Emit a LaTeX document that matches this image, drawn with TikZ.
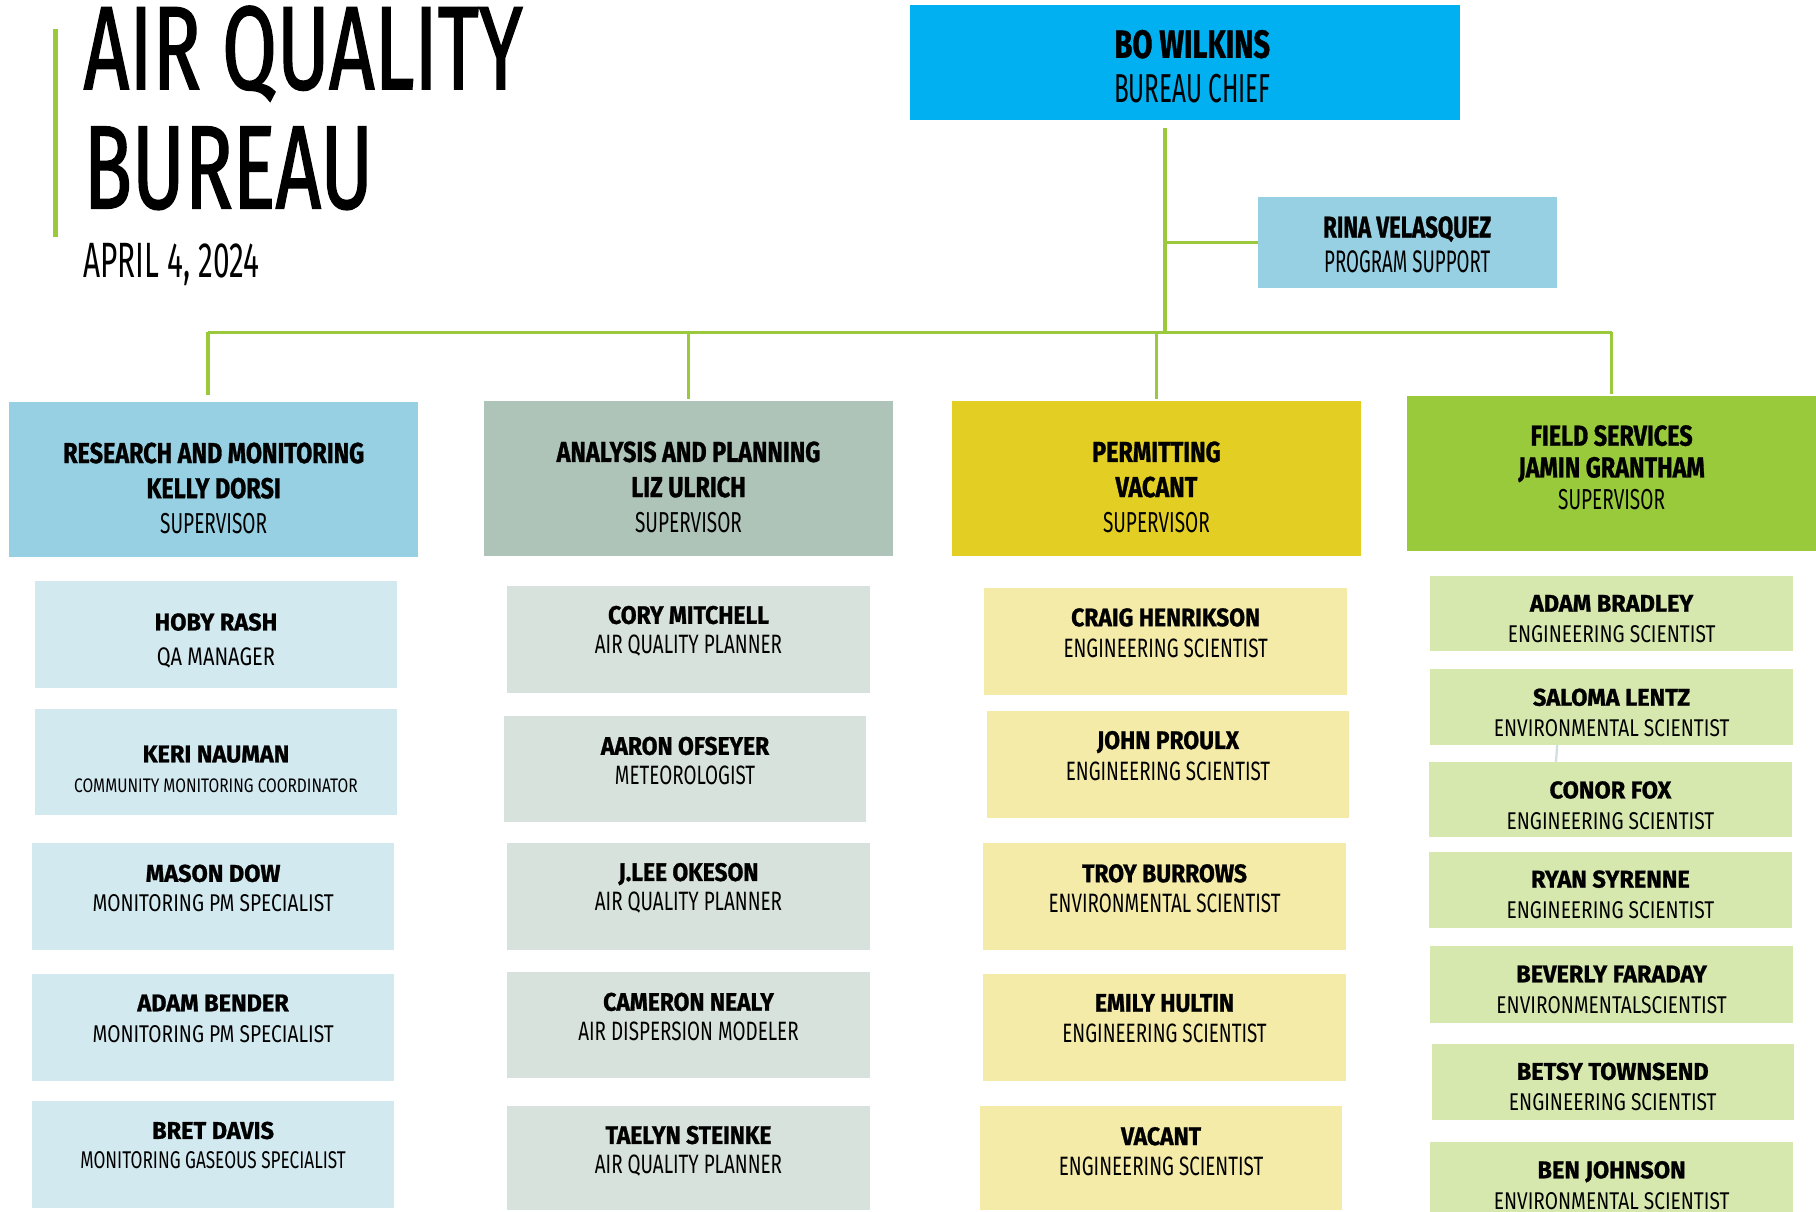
\documentclass[tikz,border=0pt]{standalone}
\usepackage{fontspec}
\setmainfont{Fira Sans}[FakeStretch=0.66]
% display title
\newfontfamily\titlefont{Fira Sans}[FakeStretch=0.67, FakeBold=1.2]
% narrow regular for short captions
\newfontfamily\regnarrow{Fira Sans}[FakeStretch=0.6]
% bold families at several widths
\newfontfamily\boldtight{Fira Sans}[FakeStretch=0.74, FakeBold=1]
\newfontfamily\boldhead{Fira Sans}[FakeStretch=0.81, FakeBold=1]
\newfontfamily\boldname{Fira Sans}[FakeStretch=0.90, FakeBold=1]
\newfontfamily\boldwide{Fira Sans}[FakeStretch=0.97, FakeBold=1]
% regular families for job titles
\newfontfamily\regmid{Fira Sans}[FakeStretch=0.71]
\newfontfamily\regwide{Fira Sans}[FakeStretch=0.79]
\usetikzlibrary{fit}

\definecolor{linegreen}{HTML}{9ACA3C}
\definecolor{chiefblue}{HTML}{00B0F0}
\definecolor{deptblue}{HTML}{97D0E2}
\definecolor{deptsage}{HTML}{AFC4B9}
\definecolor{deptyellow}{HTML}{E3CF23}
\definecolor{deptgreen}{HTML}{99CA3B}
\definecolor{paleblue}{HTML}{D3E9F0}
\definecolor{palesage}{HTML}{D8E2DD}
\definecolor{paleyellow}{HTML}{F4EBA8}
\definecolor{palegreen}{HTML}{D7E8AF}
\definecolor{faintline}{HTML}{D3DEE2}

\tikzset{
  panel/.style={inner sep=0pt, draw=none},
  conn/.style={draw=linegreen, line width=3bp},
  lbl/.style={align=center, inner sep=0pt, text=black},
}

% #1 name, #2 fill, #3-#6 corners, #7 text centre y, #8 text style, #9 text
\newcommand\orgbox[9]{%
  \node[panel, fill=#2, fit={(#3,#4)(#5,#6)}] (#1) {};
  \node[lbl, #8] (#1-text) at ({(#3+#5)/2},#7) {#9};
}
% staff text, middle columns
\newcommand\tightstaff[2]{{\boldname\bfseries\fontsize{22}{27}\selectfont #1}\\
  {\regmid\fontsize{23}{27}\selectfont #2}}
% staff text, outer columns
\newcommand\widestaff[2]{{\boldwide\bfseries\fontsize{21}{27}\selectfont #1}\\
  {\regwide\fontsize{21}{27}\selectfont #2}}
\newcommand\depttext[3]{{\boldhead\bfseries\fontsize{25}{30.5}\selectfont #1}\\
  {\boldhead\bfseries\fontsize{25}{30.5}\selectfont #2}\\
  {\fontsize{25}{30.5}\selectfont #3}}

\begin{document}
\begin{tikzpicture}[x=1bp, y=-1bp]
\useasboundingbox (0,0) rectangle (1568,1046);

% ---- title block ----
\node[panel, fill=linegreen, fit={(46,25)(50,205)}] (titlebar) {};
\node[anchor=base west, inner sep=0pt] (title1) at (72,77)
  {\titlefont\fontsize{103}{103}\selectfont AIR QUALITY};
\node[anchor=base west, inner sep=0pt] (title2) at (72,180)
  {\titlefont\fontsize{103}{103}\selectfont BUREAU};
\node[anchor=base west, inner sep=0pt] (date) at (72,240)
  {\regnarrow\fontsize{43}{43}\selectfont APRIL 4, 2024};

% ---- chief and support ----
\orgbox{chief}{chiefblue}{786}{4}{1261}{104}{57.5}{font=\fontsize{35}{39}\selectfont, xshift=6bp}
  {{\boldtight\bfseries\fontsize{34}{39}\selectfont BO WILKINS}\\ {\regnarrow BUREAU CHIEF}}
\orgbox{rina}{deptblue}{1086}{170}{1344}{249}{211}{font=\fontsize{27}{30}\selectfont}
  {{\boldtight\bfseries\fontsize{26}{30}\selectfont RINA VELASQUEZ}\\ {\regnarrow PROGRAM SUPPORT}}

% ---- sections ----
\orgbox{research}{deptblue}{8}{347}{361}{481}{421.5}{font=\fontsize{25}{30.5}\selectfont}
  {\depttext{RESEARCH AND MONITORING}{KELLY DORSI}{SUPERVISOR}}
\orgbox{analysis}{deptsage}{418}{346}{771}{480}{420.5}{font=\fontsize{25}{30.5}\selectfont}
  {\depttext{ANALYSIS AND PLANNING}{LIZ ULRICH}{SUPERVISOR}}
\orgbox{permitting}{deptyellow}{822}{346}{1175}{480}{420.5}{font=\fontsize{25}{30.5}\selectfont}
  {\depttext{PERMITTING}{VACANT}{SUPERVISOR}}
\orgbox{field}{deptgreen}{1215}{342}{1568}{476}{403.5}{font=\fontsize{25}{27.5}\selectfont}
  {{\boldhead\bfseries\fontsize{25}{27.5}\selectfont FIELD SERVICES}\\
   {\boldhead\bfseries\fontsize{25}{27.5}\selectfont JAMIN GRANTHAM}\\
   {\fontsize{25}{27.5}\selectfont SUPERVISOR}}

% ---- connectors ----
\coordinate (trunk) at (1006,287);
\coordinate (busleft) at ([xshift=-5bp]research.north |- trunk);
\draw[conn] ([yshift=-6bp]chief.south -| trunk) -- (trunk);
\draw[conn] (trunk |- rina.west) -- (rina.west);
\draw[conn] (busleft) -- (field.north |- trunk);
\draw[conn] (busleft) -- ([yshift=6bp]busleft |- research.north);
\draw[conn] (analysis.north |- trunk) -- ([yshift=1bp]analysis.north);
\draw[conn] (permitting.north |- trunk) -- ([yshift=1bp]permitting.north);
\draw[conn] (field.north |- trunk) -- ([yshift=2bp]field.north);

% ---- research and monitoring staff ----
\orgbox{hoby}{paleblue}{30}{502}{343}{594}{553}{font=\fontsize{21}{30}\selectfont}
  {{\boldwide\bfseries\fontsize{21}{30}\selectfont HOBY RASH}\\
   {\regwide\fontsize{22}{30}\selectfont QA MANAGER}}
\orgbox{keri}{paleblue}{30}{612}{343}{704}{664}{font=\fontsize{21}{26}\selectfont}
  {{\boldwide\bfseries\fontsize{21}{26}\selectfont KERI NAUMAN}\\
   {\regwide\fontsize{17}{26}\selectfont COMMUNITY MONITORING COORDINATOR}}
\orgbox{mason}{paleblue}{28}{728}{340}{820}{767}{font=\fontsize{21}{26}\selectfont}
  {\widestaff{MASON DOW}{MONITORING PM SPECIALIST}}
\orgbox{bender}{paleblue}{28}{841}{340}{933}{879.5}{font=\fontsize{21}{27}\selectfont}
  {\widestaff{ADAM BENDER}{MONITORING PM SPECIALIST}}
\orgbox{davis}{paleblue}{28}{951}{340}{1043}{989}{font=\fontsize{21}{26}\selectfont}
  {{\boldwide\bfseries\fontsize{21}{26}\selectfont BRET DAVIS}\\
   {\regmid\fontsize{21}{26}\selectfont MONITORING GASEOUS SPECIALIST}}

% ---- analysis and planning staff ----
\orgbox{mitchell}{palesage}{438}{506}{751}{598}{545}{font=\fontsize{22}{26}\selectfont}
  {\tightstaff{CORY MITCHELL}{AIR QUALITY PLANNER}}
\orgbox{ofseyer}{palesage}{435}{618}{748}{710}{657}{font=\fontsize{22}{26}\selectfont}
  {\tightstaff{AARON OFSEYER}{METEOROLOGIST}}
\orgbox{okeson}{palesage}{438}{728}{751}{820}{767}{font=\fontsize{22}{26}\selectfont}
  {\tightstaff{J.LEE OKESON}{AIR QUALITY PLANNER}}
\orgbox{nealy}{palesage}{438}{839}{751}{931}{878}{font=\fontsize{22}{26}\selectfont}
  {\tightstaff{CAMERON NEALY}{AIR DISPERSION MODELER}}
\orgbox{steinke}{palesage}{438}{955}{751}{1045}{994}{font=\fontsize{22}{26}\selectfont}
  {\tightstaff{TAELYN STEINKE}{AIR QUALITY PLANNER}}

% ---- permitting staff ----
\orgbox{henrikson}{paleyellow}{850}{508}{1163}{600}{546.5}{font=\fontsize{22}{27}\selectfont}
  {\tightstaff{CRAIG HENRIKSON}{ENGINEERING SCIENTIST}}
\orgbox{proulx}{paleyellow}{852}{614}{1165}{706}{652.5}{font=\fontsize{22}{27}\selectfont}
  {\tightstaff{JOHN PROULX}{ENGINEERING SCIENTIST}}
\orgbox{burrows}{paleyellow}{849}{728}{1162}{820}{767}{font=\fontsize{22}{26}\selectfont}
  {\tightstaff{TROY BURROWS}{ENVIRONMENTAL SCIENTIST}}
\orgbox{hultin}{paleyellow}{849}{841}{1162}{933}{879.5}{font=\fontsize{22}{27}\selectfont}
  {\tightstaff{EMILY HULTIN}{ENGINEERING SCIENTIST}}
\orgbox{vacant}{paleyellow}{846}{955}{1159}{1045}{994}{font=\fontsize{22}{26}\selectfont}
  {\tightstaff{VACANT}{ENGINEERING SCIENTIST}}

% ---- field services staff ----
\orgbox{bradley}{palegreen}{1235}{497}{1548}{562}{534.5}{font=\fontsize{21}{27}\selectfont}
  {\widestaff{ADAM BRADLEY}{ENGINEERING SCIENTIST}}
\orgbox{lentz}{palegreen}{1235}{578}{1548}{643}{615.5}{font=\fontsize{21}{27}\selectfont}
  {\widestaff{SALOMA LENTZ}{ENVIRONMENTAL SCIENTIST}}
\orgbox{fox}{palegreen}{1234}{658}{1547}{723}{695.5}{font=\fontsize{21}{27}\selectfont}
  {\widestaff{CONOR FOX}{ENGINEERING SCIENTIST}}
\orgbox{syrenne}{palegreen}{1234}{736}{1547}{801}{772.5}{font=\fontsize{21}{27}\selectfont}
  {\widestaff{RYAN SYRENNE}{ENGINEERING SCIENTIST}}
\orgbox{faraday}{palegreen}{1235}{817}{1548}{883}{854.5}{font=\fontsize{21}{27}\selectfont}
  {\widestaff{BEVERLY FARADAY}{ENVIRONMENTALSCIENTIST}}
\orgbox{townsend}{palegreen}{1236}{901}{1549}{967}{938.5}{font=\fontsize{21}{27}\selectfont}
  {\widestaff{BETSY TOWNSEND}{ENGINEERING SCIENTIST}}
\orgbox{johnson}{palegreen}{1235}{986}{1548}{1070}{1023.5}{font=\fontsize{21}{27}\selectfont}
  {\widestaff{BEN JOHNSON}{ENVIRONMENTAL SCIENTIST}}

\draw[draw=faintline, line width=2bp] ([xshift=-47bp]lentz.south) -- ([xshift=-47bp]fox.north);
\end{tikzpicture}
\end{document}
